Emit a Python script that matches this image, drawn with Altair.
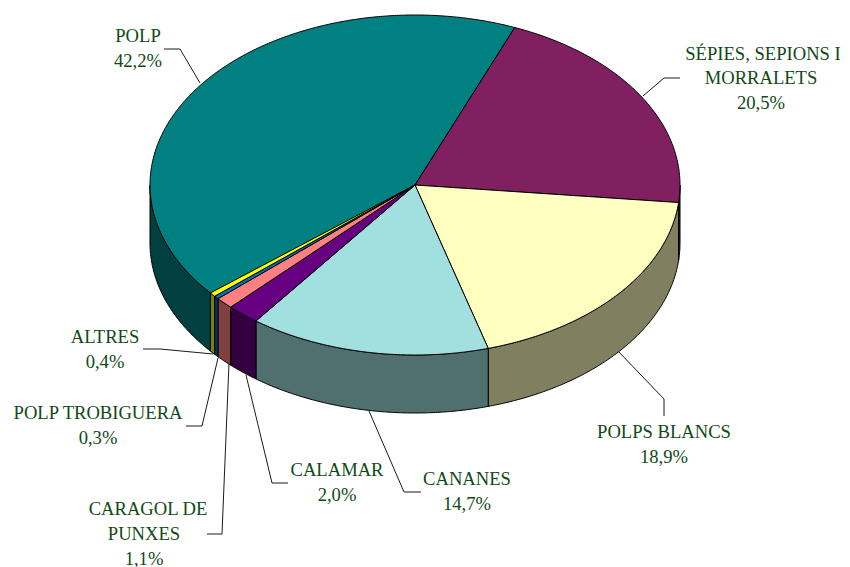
import math
import altair as alt
import pandas as pd

# chart values
names = ["POLP", "SÉPIES, SEPIONS I MORRALETS", "POLPS BLANCS", "CANANES", "CALAMAR",
         "CARAGOL DE PUNXES", "POLP TROBIGUERA", "ALTRES"]
shares = [42.2, 20.5, 18.9, 14.7, 2.0, 1.1, 0.3, 0.4]
share_labels = ["42,2%", "20,5%", "18,9%", "14,7%", "2,0%", "1,1%", "0,3%", "0,4%"]
top_colors = ["#008080", "#802060", "#FFFFC0", "#A2E0E0", "#660080", "#FF8080", "#0070C0", "#FFFF00"]
side_colors = ["#004040", "#401030", "#808060", "#507070", "#330040", "#804040", "#003860", "#808000"]

# pie geometry
CX, CY, RX, RY, DEPTH = 415.0, 185.0, 265.0, 170.0, 58.0
START_ANGLE = 230.2  # clockwise from the top; the POLP slice starts here
VIS_FROM, VIS_TO = 90.0, 270.0

W, H = 834, 559

def pt(a, dy=0.0):
    r = math.radians(a)
    return CX + RX * math.sin(r), CY - RY * math.cos(r) + dy

def arc(a0, a1, dy=0.0):
    n = max(2, int(abs(a1 - a0) * 2) + 1)
    return [pt(a0 + (a1 - a0) * k / (n - 1), dy) for k in range(n)]

tops, sides = [], []
a = START_ANGLE
for i, (nm, s) in enumerate(zip(names, shares)):
    b = a + s * 3.6
    poly = [(CX, CY)] + arc(a, b) + [(CX, CY)]
    tops += [dict(part=f"t{i}", k=k, x=p[0], y=p[1], c=top_colors[i]) for k, p in enumerate(poly)]
    # visible part of the outer wall (also try the wrapped range)
    for shift in (0, -360):
        lo, hi = max(a + shift, VIS_FROM), min(b + shift, VIS_TO)
        if lo < hi:
            t = arc(lo, hi)
            bt = arc(hi, lo, DEPTH)
            poly = t + bt + [t[0]]
            sides += [dict(part=f"s{i}{shift}", k=k, x=p[0], y=p[1], c=side_colors[i]) for k, p in enumerate(poly)]
    a = b

# label lines
label_lines = [
    ("POLP", 138, 36), ("42,2%", 138, 61),
    ("SÉPIES, SEPIONS I", 763, 54), ("MORRALETS", 761, 78), ("20,5%", 761, 103),
    ("POLPS BLANCS", 664, 432), ("18,9%", 664, 457),
    ("CANANES", 467, 479), ("14,7%", 467, 504),
    ("CALAMAR", 337, 470), ("2,0%", 337, 495),
    ("CARAGOL DE", 148, 509), ("PUNXES", 144, 534), ("1,1%", 144, 559),
    ("POLP TROBIGUERA", 98, 413), ("0,3%", 98, 438),
    ("ALTRES", 105, 337), ("0,4%", 105, 362),
]
leaders = {
    "POLP": [(164, 49), (180, 49), (200, 83)],
    "SEPIES": [(680, 78), (664, 78), (643, 96)],
    "BLANCS": [(664, 416), (664, 399), (617, 350)],
    "CANANES": [(421, 492), (404, 492), (369, 411)],
    "CALAMAR": [(288, 483), (272, 483), (246, 375)],
    "CARAGOL": [(207, 534), (222, 534), (229, 363)],
    "TROBIGUERA": [(186, 426), (202, 426), (218, 358)],
    "ALTRES": [(143, 349), (160, 349), (213, 354)],
}

leader_rows = [dict(part=n, k=k, x=p[0], y=p[1]) for n, pts in leaders.items() for k, p in enumerate(pts)]
text_rows = [dict(t=t, x=x, y=y) for t, x, y in label_lines]

xs = alt.Scale(domain=[8, 8 + W], nice=False, zero=False)
ys = alt.Scale(domain=[8 + H, 8], nice=False, zero=False)
X = alt.X("x:Q", scale=xs, axis=None)
Y = alt.Y("y:Q", scale=ys, axis=None)

def shape(rows):
    return alt.Chart(pd.DataFrame(rows)).mark_line(filled=True, stroke="#000000", strokeWidth=1, interpolate="linear").encode(
        x=X, y=Y, color=alt.Color("c:N", scale=None), detail="part:N", order="k:Q"
    )

lines = alt.Chart(pd.DataFrame(leader_rows)).mark_line(stroke="#1a1a1a", strokeWidth=1).encode(
    x=X, y=Y, detail="part:N", order="k:Q"
)
texts = alt.Chart(pd.DataFrame(text_rows)).mark_text(
    font="Liberation Serif", fontSize=18.6, color="#0f4a16", align="center", baseline="middle"
).encode(x=X, y=Y, text="t:N")

chart = alt.layer(lines, shape(sides), shape(tops), texts).properties(
    width=W, height=H, padding=0, autosize=alt.AutoSizeParams(type="none")
).configure_view(stroke=None)

chart.save("out.html", embed_options={"renderer": "svg", "actions": False})
